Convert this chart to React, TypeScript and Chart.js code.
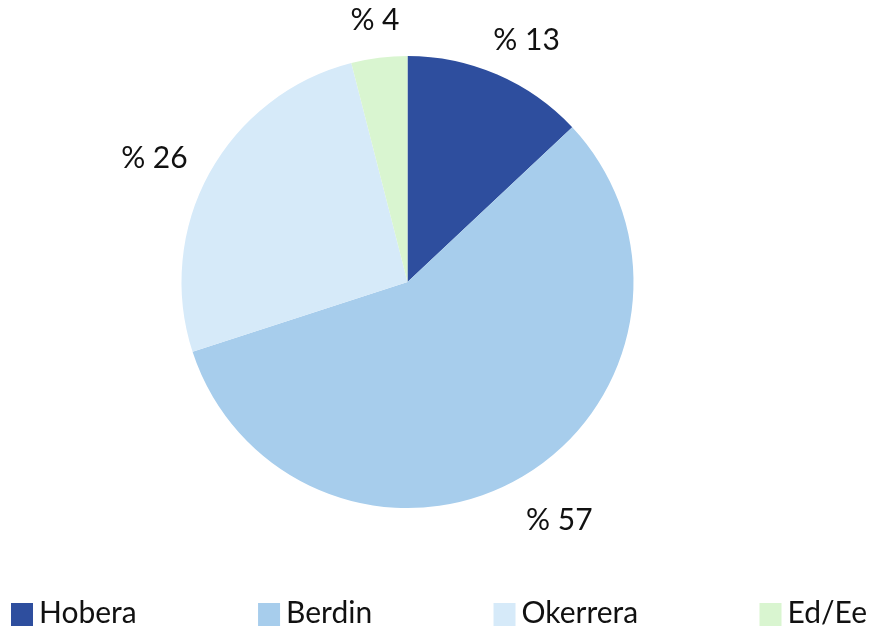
import React, { useEffect, useRef } from "react";
import { Chart, registerables } from "chart.js";

Chart.register(...registerables);

const categories = ["Hobera", "Berdin", "Okerrera", "Ed/Ee"];
const values = [13, 57, 26, 4];
const valueLabels = ["% 13", "% 57", "% 26", "% 4"];
const colors = ["#2E4E9E", "#A7CDEC", "#D6EAF9", "#D9F5D0"];

const FONT = "Lato, 'Open Sans', sans-serif";

const outsideLabels = {
  id: "outsideLabels",
  afterDatasetsDraw(chart: any) {
    const ctx = chart.ctx;
    const meta = chart.getDatasetMeta(0);
    ctx.save();
    ctx.font = `30px ${FONT}`;
    ctx.fillStyle = "#111";
    ctx.textAlign = "center";
    ctx.textBaseline = "middle";
    meta.data.forEach((arc: any, i: number) => {
      const p = arc.getProps(["x", "y", "startAngle", "endAngle", "outerRadius"], true);
      const mid = (p.startAngle + p.endAngle) / 2;
      const ux = Math.cos(mid);
      const uy = Math.sin(mid);
      const text = valueLabels[i];
      const w = ctx.measureText(text).width;
      const h = 22;
      const r = p.outerRadius + 33;
      const cx = p.x + r * ux + (w / 2) * ux + 3;
      const cy = p.y + r * uy + (h / 2) * uy + 6;
      ctx.fillText(text, cx, cy);
    });
    ctx.restore();
  },
};

const justifiedLegend = {
  id: "justifiedLegend",
  afterDraw(chart: any) {
    const ctx = chart.ctx;
    ctx.save();
    ctx.font = `30px ${FONT}`;
    const box = 22;
    const gapBoxText = 6;
    const left = 11;
    const right = 867;
    const widths = categories.map((c) => box + gapBoxText + ctx.measureText(c).width);
    const total = widths.reduce((a, b) => a + b, 0);
    const gap = (right - left - total) / (categories.length - 1);
    let x = left;
    const baseline = 623;
    categories.forEach((c, i) => {
      ctx.fillStyle = colors[i];
      ctx.fillRect(x, 603, box, 23);
      ctx.fillStyle = "#111";
      ctx.textAlign = "left";
      ctx.textBaseline = "alphabetic";
      ctx.fillText(c, x + box + gapBoxText, baseline);
      x += widths[i] + gap;
    });
    ctx.restore();
  },
};

export default function App() {
  const ref = useRef<HTMLCanvasElement>(null);
  useEffect(() => {
    if (!ref.current) return;
    const chart = new Chart(ref.current, {
      type: "pie",
      data: {
        labels: categories,
        datasets: [
          {
            data: values,
            backgroundColor: colors,
            borderWidth: 0,
          },
        ],
      },
      options: {
        responsive: false,
        animation: false,
        layout: { padding: { left: 181, right: 237, top: 56, bottom: 118 } },
        plugins: {
          legend: { display: false },
          tooltip: { enabled: false },
        },
      },
      plugins: [outsideLabels, justifiedLegend],
    });
    return () => chart.destroy();
  }, []);
  return (
    <div style={{ position: "absolute", left: 0, top: 0, width: 871, height: 626, background: "#fff" }}>
      <canvas ref={ref} width={871} height={626} style={{ width: 871, height: 626 }} />
    </div>
  );
}
